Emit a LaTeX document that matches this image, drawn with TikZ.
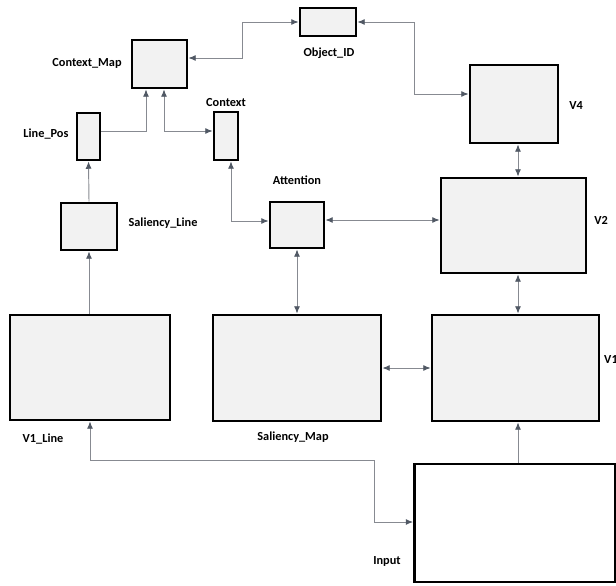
\documentclass[tikz,border=0pt]{standalone}
\usepackage{fontspec}
\setmainfont{Carlito}
\usetikzlibrary{arrows.meta}
\definecolor{linkgray}{RGB}{135,138,145}
\definecolor{tipgray}{RGB}{80,88,100}
\definecolor{boxfill}{RGB}{242,242,242}

\begin{document}
\begin{tikzpicture}[x=0.03cm,y=-0.03cm,
  blk/.style={draw=black,line width=2.4pt,fill=boxfill,inner sep=0pt},
  lbl/.style={font=\bfseries\fontsize{10.5}{12}\selectfont,inner sep=0pt},
  link/.style={draw=linkgray,line width=0.8pt,
    arrows={-{Latex[length=2.2mm,width=1.8mm,color=tipgray]}}},
  link2/.style={link,arrows={{Latex[length=2.2mm,width=1.8mm,color=tipgray]}-{Latex[length=2.2mm,width=1.8mm,color=tipgray]}}}]
\useasboundingbox (0,0) rectangle (616,585);
% boxes
\node[blk,minimum width=1.68cm,minimum height=0.84cm] (objid) at (328,22) {};
\node[blk,minimum width=1.65cm,minimum height=1.44cm] (ctxmap) at (159.5,64) {};
\node[blk,minimum width=2.64cm,minimum height=2.34cm] (v4) at (514,104) {};
\node[blk,minimum width=0.69cm,minimum height=1.41cm] (linepos) at (88.5,136.5) {};
\node[blk,minimum width=0.72cm,minimum height=1.44cm] (context) at (226,136) {};
\node[blk,minimum width=1.62cm,minimum height=1.38cm] (attention) at (297,225) {};
\node[blk,minimum width=4.35cm,minimum height=2.85cm] (v2) at (513.5,225.5) {};
\node[blk,minimum width=1.68cm,minimum height=1.41cm] (salline) at (89,226.5) {};
\node[blk,minimum width=4.80cm,minimum height=3.15cm] (v1line) at (90,367.5) {};
\node[blk,minimum width=5.04cm,minimum height=3.18cm] (salmap) at (297,368) {};
\node[blk,minimum width=5.01cm,minimum height=3.18cm] (v1) at (515.5,368) {};
\node[blk,fill=white,minimum width=6.03cm,minimum height=3.54cm] (input) at (515,523) {};
% labels
\node[lbl] (ctxmaplbl) at (87,63) {Context\_Map};
\node[lbl] (objidlbl) at (329,53) {Object\_ID};
\node[lbl] (v4lbl) at (576,106) {V4};
\node[lbl] (lineposlbl) at (46,134) {Line\_Pos};
\node[lbl] (contextlbl) at (226,103) {Context};
\node[lbl] (attentionlbl) at (297,180) {Attention};
\node[lbl] (v2lbl) at (601,220) {V2};
\node[lbl] (sallinelbl) at (163,223) {Saliency\_Line};
\node[lbl] (v1linelbl) at (43,439) {V1\_Line};
\node[lbl] (salmaplbl) at (293,437) {Saliency\_Map};
\node[lbl,anchor=west] (v1lbl) at (604,360) {V1};
\node[lbl] (inputlbl) at (387,561) {Input};
% connectors
\draw[link2] (ctxmap.east |- 0,58) -- (242,58) |- (objid.west);
\draw[link2] (objid.east) -| (414,94) -- (v4.west |- 0,94);
\draw[link] (linepos.east |- 0,131) -| (146,0 |- ctxmap.south);
\draw[link2] (164,0 |- ctxmap.south) |- (context.west |- 0,131);
\draw[link] (salline.north) -- (linepos.south);
\draw[link] (salline.south |- v1line.north) -- (salline.south);
\draw[link2] (231,0 |- context.south) |- (attention.west |- 0,221);
\draw[link2] (attention.east |- 0,220) -- (v2.west |- 0,220);
\draw[link2] (attention.south) -- (salmap.north);
\draw[link2] (518,0 |- v4.south) -- (518,0 |- v2.north);
\draw[link2] (518,0 |- v2.south) -- (518,0 |- v1.north);
\draw[link2] (salmap.east) -- (v1.west);
\draw[link] (518,0 |- input.north) -- (518,0 |- v1.south);
\draw[link2] (v1line.south) |- (374,460) |- (input.west |- 0,522);
\end{tikzpicture}
\end{document}
